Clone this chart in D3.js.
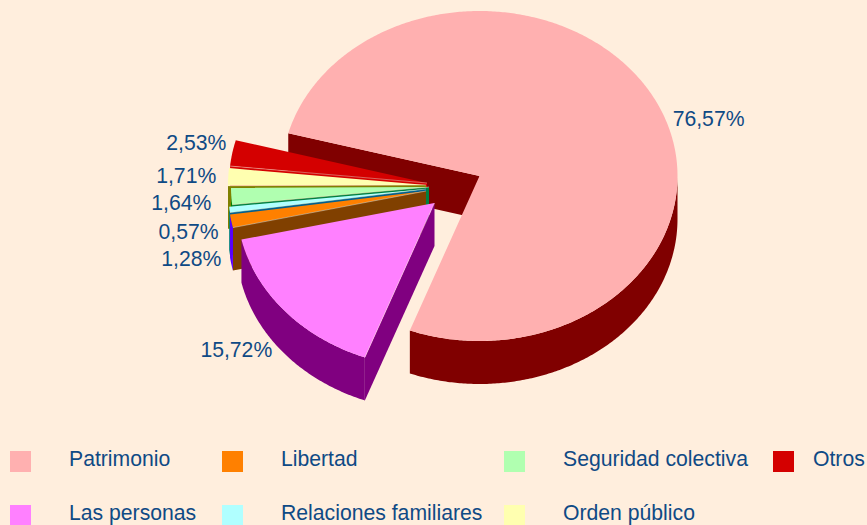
<!DOCTYPE html>
<html>
<head>
<meta charset="utf-8">
<script src="https://cdn.jsdelivr.net/npm/d3@7"></script>
<style>
  html, body { margin: 0; padding: 0; background: #ffeedd; overflow: hidden; }
  text { font-family: "Liberation Sans", Arial, sans-serif; fill: #0f4a85; font-size: 21.2px; }
</style>
</head>
<body>
<div id="chart-container"></div>
<script>
const categories = ["Patrimonio", "Las personas", "Libertad", "Relaciones familiares", "Seguridad colectiva", "Orden p\u00fablico", "Otros"];
const shares = [76.57, 15.72, 1.28, 0.57, 1.64, 1.71, 2.53];

const topColors = ["#ffb0b0", "#ff80ff", "#ff8000", "#b0ffff", "#b0ffb0", "#ffffb0", "#d40000"];
const wallColors = ["#800000", "#800080", "#804000", "#005f8f", "#008040", "#808000", "#d40000"];
const rimColors = ["#800000", "#800080", "#5a00ff", "#008080", "#008000", "#c8c878", "#800000"];

// where each slice's apex ended up after the explode, and label nudge from its rim
const apexes = [[479.5, 176], [434.5, 203], [426, 191], [426, 189], [429, 187], [426, 185], [427, 183]];
const labelNudge = [[53, 25], [-49, 46], [-40, 45], [-41, 29.5], [-50, 14], [-42, 6], [-36, -3]];

const legendCols = [10, 222, 504, 773];
const legendRows = [451, 505];

const svgWidth = 867;
const svgHeight = 525;
const rx = 198, ry = 165, depth = 43;
const startAt = -75 * Math.PI / 180;

const svg = d3.select("#chart-container")
    .append("svg")
    .attr("width", svgWidth)
    .attr("height", svgHeight)
    .style("display", "block");

const slices = d3.pie().sort(null).startAngle(startAt).endAngle(startAt + 2 * Math.PI)(shares);

const line = d3.line();

function rimPoint(apex, t, drop) {
    return [apex[0] + rx * Math.sin(t), apex[1] - ry * Math.cos(t) + drop];
}

function rimPoints(apex, a, b, drop) {
    const n = Math.max(2, Math.ceil((b - a) / 0.01));
    return d3.range(n + 1).map(i => rimPoint(apex, a + (b - a) * i / n, drop));
}

// big slice at the back, then the small ones top to bottom so the lower ones overlap
const drawOrder = [0].concat(d3.range(slices.length - 1, 0, -1));

drawOrder.forEach(function(i) {
    const s = slices[i];
    const apex = apexes[i];
    const edge = rimPoint(apex, s.startAngle, 0);

    // cut face along the starting edge
    svg.append("path")
        .attr("fill", wallColors[i])
        .attr("d", line([apex, edge, [edge[0], edge[1] + depth], [apex[0], apex[1] + depth]]) + "Z");

    // outer wall, only the part of the rim that faces the viewer
    const twoPi = 2 * Math.PI;
    [[Math.PI / 2, 3 * Math.PI / 2], [Math.PI / 2 - twoPi, 3 * Math.PI / 2 - twoPi]].forEach(function(win) {
        const a = Math.max(s.startAngle, win[0]);
        const b = Math.min(s.endAngle, win[1]);
        if (b > a) {
            const pts = rimPoints(apex, a, b, 0).concat(rimPoints(apex, a, b, depth).reverse());
            svg.append("path")
                .attr("fill", rimColors[i])
                .attr("d", line(pts) + "Z");
        }
    });

    // top surface
    svg.append("path")
        .attr("fill", topColors[i])
        .attr("d", line([apex].concat(rimPoints(apex, s.startAngle, s.endAngle, 0))) + "Z");

    // thin pale seam between top and cut face
    if (i > 0) {
        svg.append("path")
            .attr("fill", "none")
            .attr("stroke", "#ffeedd")
            .attr("stroke-opacity", 0.6)
            .attr("stroke-width", 0.7)
            .attr("d", line([apex, edge]));
    }
});

slices.forEach(function(s, i) {
    const mid = rimPoint(apexes[i], (s.startAngle + s.endAngle) / 2, 0);
    svg.append("text")
        .attr("x", mid[0] + labelNudge[i][0])
        .attr("y", mid[1] + labelNudge[i][1])
        .attr("text-anchor", "middle")
        .text(shares[i].toFixed(2).replace(".", ",") + "%");
});

categories.forEach(function(name, i) {
    const col = Math.floor(i / 2);
    const row = i % 2;
    svg.append("rect")
        .attr("x", legendCols[col])
        .attr("y", legendRows[row])
        .attr("width", 21)
        .attr("height", 21)
        .attr("fill", topColors[i]);
    svg.append("text")
        .attr("x", legendCols[col] + (col === 3 ? 40 : 59))
        .attr("y", legendRows[row] + 15)
        .text(name);
});
</script>
</body>
</html>
